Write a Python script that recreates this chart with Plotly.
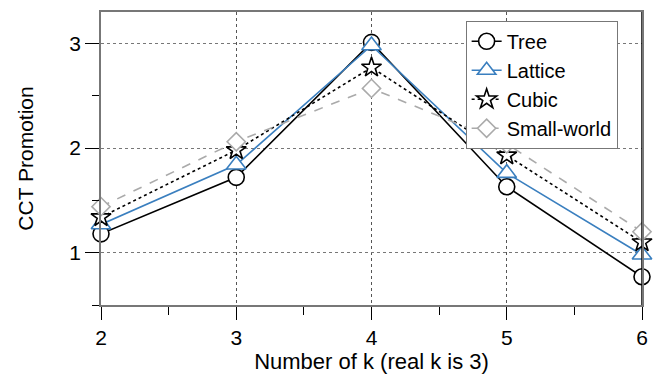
import plotly.graph_objects as go

k_values = [2, 3, 4, 5, 6]
tree = [1.18, 1.72, 3.01, 1.63, 0.77]
lattice = [1.27, 1.84, 2.98, 1.76, 0.98]
cubic = [1.34, 1.98, 2.77, 1.93, 1.10]
small_world = [1.44, 2.06, 2.57, 2.04, 1.20]

series = [
    ("Tree", tree, "black", "solid", "circle", 16),
    ("Lattice", lattice, "#3a7fbf", "solid", "triangle-up", 17),
    ("Cubic", cubic, "black", "dot", "star", 15),
    ("Small-world", small_world, "#aaaaaa", "dash", "diamond", 14),
]

FONT = "Liberation Sans, Arial, Helvetica, sans-serif"

fig = go.Figure()
for name, vals, color, dash, sym, size in series:
    fig.add_trace(go.Scatter(
        x=k_values, y=vals, name=name, mode="lines+markers",
        line=dict(color=color, width=1.6, dash=dash),
        marker=dict(symbol=sym, size=size, color="white",
                    line=dict(color=color, width=1.6)),
        cliponaxis=False,
    ))

fig.update_layout(
    width=654, height=374,
    margin=dict(l=101, r=12, t=12, b=69),
    paper_bgcolor="white", plot_bgcolor="white",
    font=dict(family=FONT, size=21, color="black"),
    legend=dict(
        x=0.674, y=0.97, xanchor="left", yanchor="top",
        bgcolor="white", bordercolor="#777", borderwidth=1,
        font=dict(size=20), tracegroupgap=0,
    ),
)
fig.update_xaxes(
    range=[2, 6], tickvals=k_values, ticks="outside", ticklen=13,
    tickcolor="black", tickwidth=1.2, tickfont=dict(size=21),
    showline=True, linecolor="#777", linewidth=1.5, mirror=True,
    showgrid=True, gridcolor="#555", griddash="dot", gridwidth=1,
    zeroline=False, automargin=False,
    minor=dict(dtick=0.5, tick0=2, ticks="outside", ticklen=8, tickcolor="black", showgrid=False),
    title=dict(text="Number of k (real k is 3)", font=dict(size=22), standoff=12),
)
fig.update_yaxes(
    range=[0.5, 3.3], tickvals=[1, 2, 3], ticks="outside", ticklen=14,
    tickcolor="black", tickwidth=1.2, tickfont=dict(size=21),
    showline=True, linecolor="#777", linewidth=1.5, mirror=True,
    showgrid=True, gridcolor="#777", griddash="dot", gridwidth=1,
    zeroline=False, automargin=False,
    minor=dict(dtick=0.5, tick0=0.5, ticks="outside", ticklen=7, tickcolor="black", showgrid=False),
    title=dict(text="CCT Promotion", font=dict(size=21), standoff=30),
)
fig.add_shape(type="line", xref="x", yref="paper", x0=6, x1=6, y0=0, y1=1,
              line=dict(color="black", width=1.5))

fig.write_html("out.html")
